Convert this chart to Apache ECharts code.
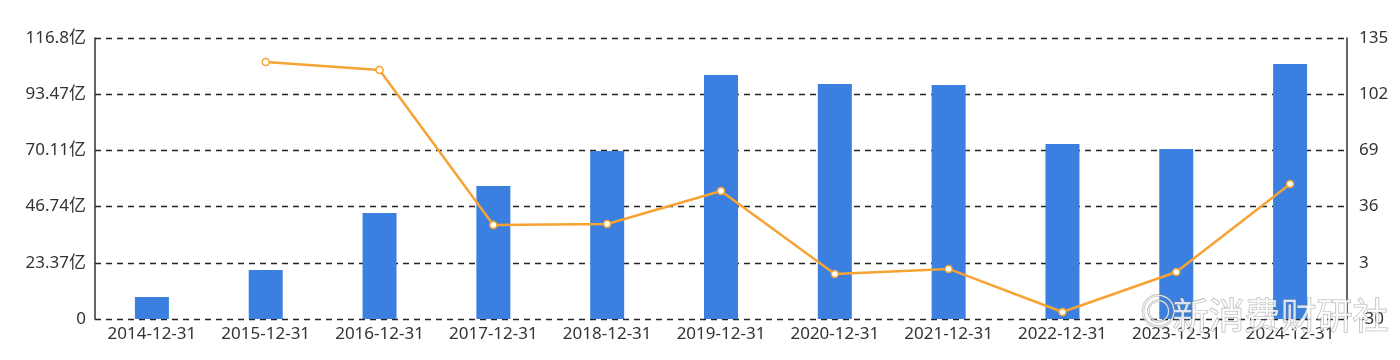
<!DOCTYPE html>
<html><head><meta charset="utf-8">
<script src="https://cdn.jsdelivr.net/npm/echarts@6/dist/echarts.min.js"></script>
<style>html,body{margin:0;padding:0;background:#fff}#c{width:1400px;height:360px}</style>
</head><body><div id="c"></div>
<script>
const categories = ['2014-12-31','2015-12-31','2016-12-31','2017-12-31','2018-12-31','2019-12-31','2020-12-31','2021-12-31','2022-12-31','2023-12-31','2024-12-31'];
const barValues = [9.1, 20.4, 44.1, 55.3, 69.8, 101.4, 97.7, 97.3, 72.7, 70.7, 106.0];
const lineValues = [null, 120.9, 116.2, 25.2, 25.8, 45.2, -3.6, -0.6, -25.9, -2.4, 49.3];
const leftTickLabels = ['0','23.37亿','46.74亿','70.11亿','93.47亿','116.8亿'];
const rightTickLabels = ['-30','3','36','69','102','135'];

const chart = echarts.init(document.getElementById('c'));
const font = '"Noto Sans", "Noto Sans CJK SC", sans-serif';
chart.setOption({
  animation: false,
  grid: {left: 95, right: 53, top: 38, bottom: 41, containLabel: false},
  xAxis: {
    type: 'category', data: categories,
    axisLine: {show: false}, axisTick: {show: false},
    axisLabel: {color: '#333', fontSize: 17, fontFamily: font, margin: 7, interval: 0}
  },
  yAxis: [{
    type: 'value', min: 0, max: 116.8, interval: 23.36,
    axisLine: {show: true, lineStyle: {color: '#333', width: 1.5}},
    axisTick: {show: false},
    splitLine: {show: true, lineStyle: {color: '#222', type: [6, 5], width: 1.3}},
    axisLabel: {color: '#333', fontSize: 17, fontFamily: font, margin: 9,
      formatter: (v) => { const i = Math.round(v / 23.36); return leftTickLabels[i] ?? ''; }}
  }, {
    type: 'value', min: -30, max: 135, interval: 33,
    axisLine: {show: true, lineStyle: {color: '#333', width: 1.5}},
    axisTick: {show: false},
    splitLine: {show: false},
    axisLabel: {color: '#333', fontSize: 17, fontFamily: font, margin: 12,
      formatter: (v) => { const i = Math.round((v + 30) / 33); return rightTickLabels[i] ?? ''; }}
  }],
  series: [{
    type: 'bar', data: barValues, yAxisIndex: 0, barWidth: 34,
    itemStyle: {color: '#3b80e0'}, z: 2
  }, {
    type: 'line', data: lineValues, yAxisIndex: 1,
    symbol: 'circle', symbolSize: 7, connectNulls: false,
    lineStyle: {color: '#f7a333', width: 2.5},
    itemStyle: {color: '#fff', borderColor: '#f7a333', borderWidth: 1.5}, z: 3
  }],
  graphic: [{
    type: 'text', left: 1140, top: 296, z: 100,
    style: {text: '◎', fontSize: 36, fontFamily: font, fill: 'rgba(255,255,255,0.75)', stroke: 'rgba(120,120,120,0.55)', lineWidth: 1.2}
  }, {
    type: 'text', left: 1172, top: 297, z: 100,
    style: {text: '新消费财研社', fontSize: 36, fontFamily: '"Noto Sans CJK SC", sans-serif', fill: 'rgba(255,255,255,0.8)', stroke: 'rgba(120,120,120,0.55)', lineWidth: 1.2}
  }]
});
</script></body></html>
